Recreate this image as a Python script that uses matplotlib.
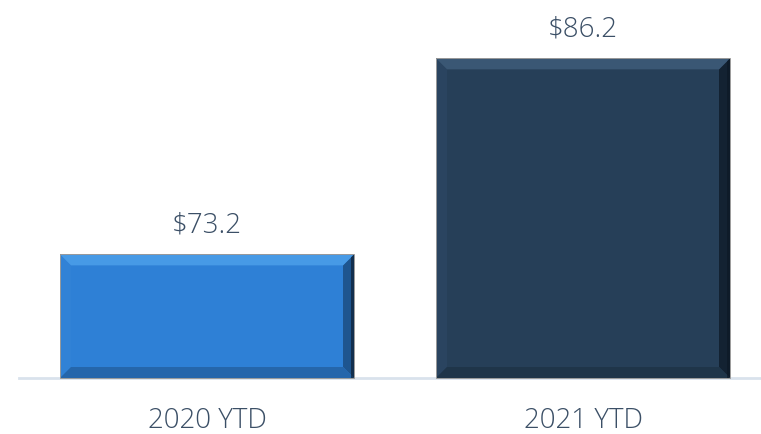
import matplotlib
matplotlib.use("Agg")
import matplotlib.pyplot as plt
from matplotlib.patches import Polygon
from matplotlib.transforms import IdentityTransform
from matplotlib import font_manager

categories = ["2020 YTD", "2021 YTD"]
values = [73.2, 86.2]
labels = ["$73.2", "$86.2"]
colors = ["#2E80D6", "#263F58"]
top_cols = ["#479AE6", "#3A5774"]
left_cols = ["#3182D6", "#2A4460"]
right_cols = ["#1E558F", "#132232"]
bot_cols = ["#2566AB", "#1F3549"]

W, H, DPI = 761, 434, 100
fig = plt.figure(figsize=(W / DPI, H / DPI), dpi=DPI)
ax = fig.add_axes([19 / W, (434 - 378) / H, 752 / W, 378 / H])
ax.set_xlim(-0.5, 1.5)
ax.set_ylim(65, 90.07)

FONT = ["Open Sans", "DejaVu Sans"]
TXT = "#3B4F66"

bars = ax.bar(range(len(values)), values, width=294 / 376, color=colors,
              edgecolor="none", zorder=2)

for s in ["top", "left", "right"]:
    ax.spines[s].set_visible(False)
ax.spines["bottom"].set_color("#D9E2EC")
ax.spines["bottom"].set_linewidth(2)
ax.set_yticks([])
ax.set_xticks(range(len(categories)))
ax.set_xticklabels(categories, fontsize=20, color=TXT, family=FONT, fontweight="light")
ax.tick_params(axis="x", length=0, pad=21)

fig.canvas.draw()
b = 11
for i, bar in enumerate(bars):
    x0, y0 = ax.transData.transform((bar.get_x(), ax.get_ylim()[0]))
    x1, y1 = ax.transData.transform((bar.get_x() + bar.get_width(), bar.get_height()))
    top = [(x0, y1), (x1, y1), (x1 - b, y1 - b), (x0 + b, y1 - b)]
    bot = [(x0, y0), (x1, y0), (x1 - b, y0 + b), (x0 + b, y0 + b)]
    left = [(x0, y0), (x0, y1), (x0 + b, y1 - b), (x0 + b, y0 + b)]
    right = [(x1, y0), (x1, y1), (x1 - b, y1 - b), (x1 - b, y0 + b)]
    for poly, c in [(left, left_cols[i]), (right, right_cols[i]), (bot, bot_cols[i]), (top, top_cols[i])]:
        fig.patches.append(Polygon(poly, closed=True, facecolor=c, edgecolor="none",
                                   transform=IdentityTransform(), zorder=3))
    # dark edge on right
    fig.patches.append(Polygon([(x1 - 3, y0), (x1 - 3, y1 - 3), (x1, y1), (x1, y0)], closed=True,
                               facecolor="#0B1724", edgecolor="none", alpha=0.6,
                               transform=IdentityTransform(), zorder=3))
    fig.patches.append(Polygon([(x0, y0), (x0, y1), (x1, y1), (x1, y0)], closed=True,
                               facecolor="none", edgecolor="#9A9A9A", linewidth=0.7,
                               transform=IdentityTransform(), zorder=4))
    ax.annotate(labels[i], (bar.get_x() + bar.get_width() / 2, bar.get_height()),
                xytext=(0, 16), textcoords="offset points", ha="center", va="baseline",
                fontsize=20, color=TXT, family=FONT, fontweight="light",
                annotation_clip=False)

fig.savefig("out.png", dpi=DPI)
